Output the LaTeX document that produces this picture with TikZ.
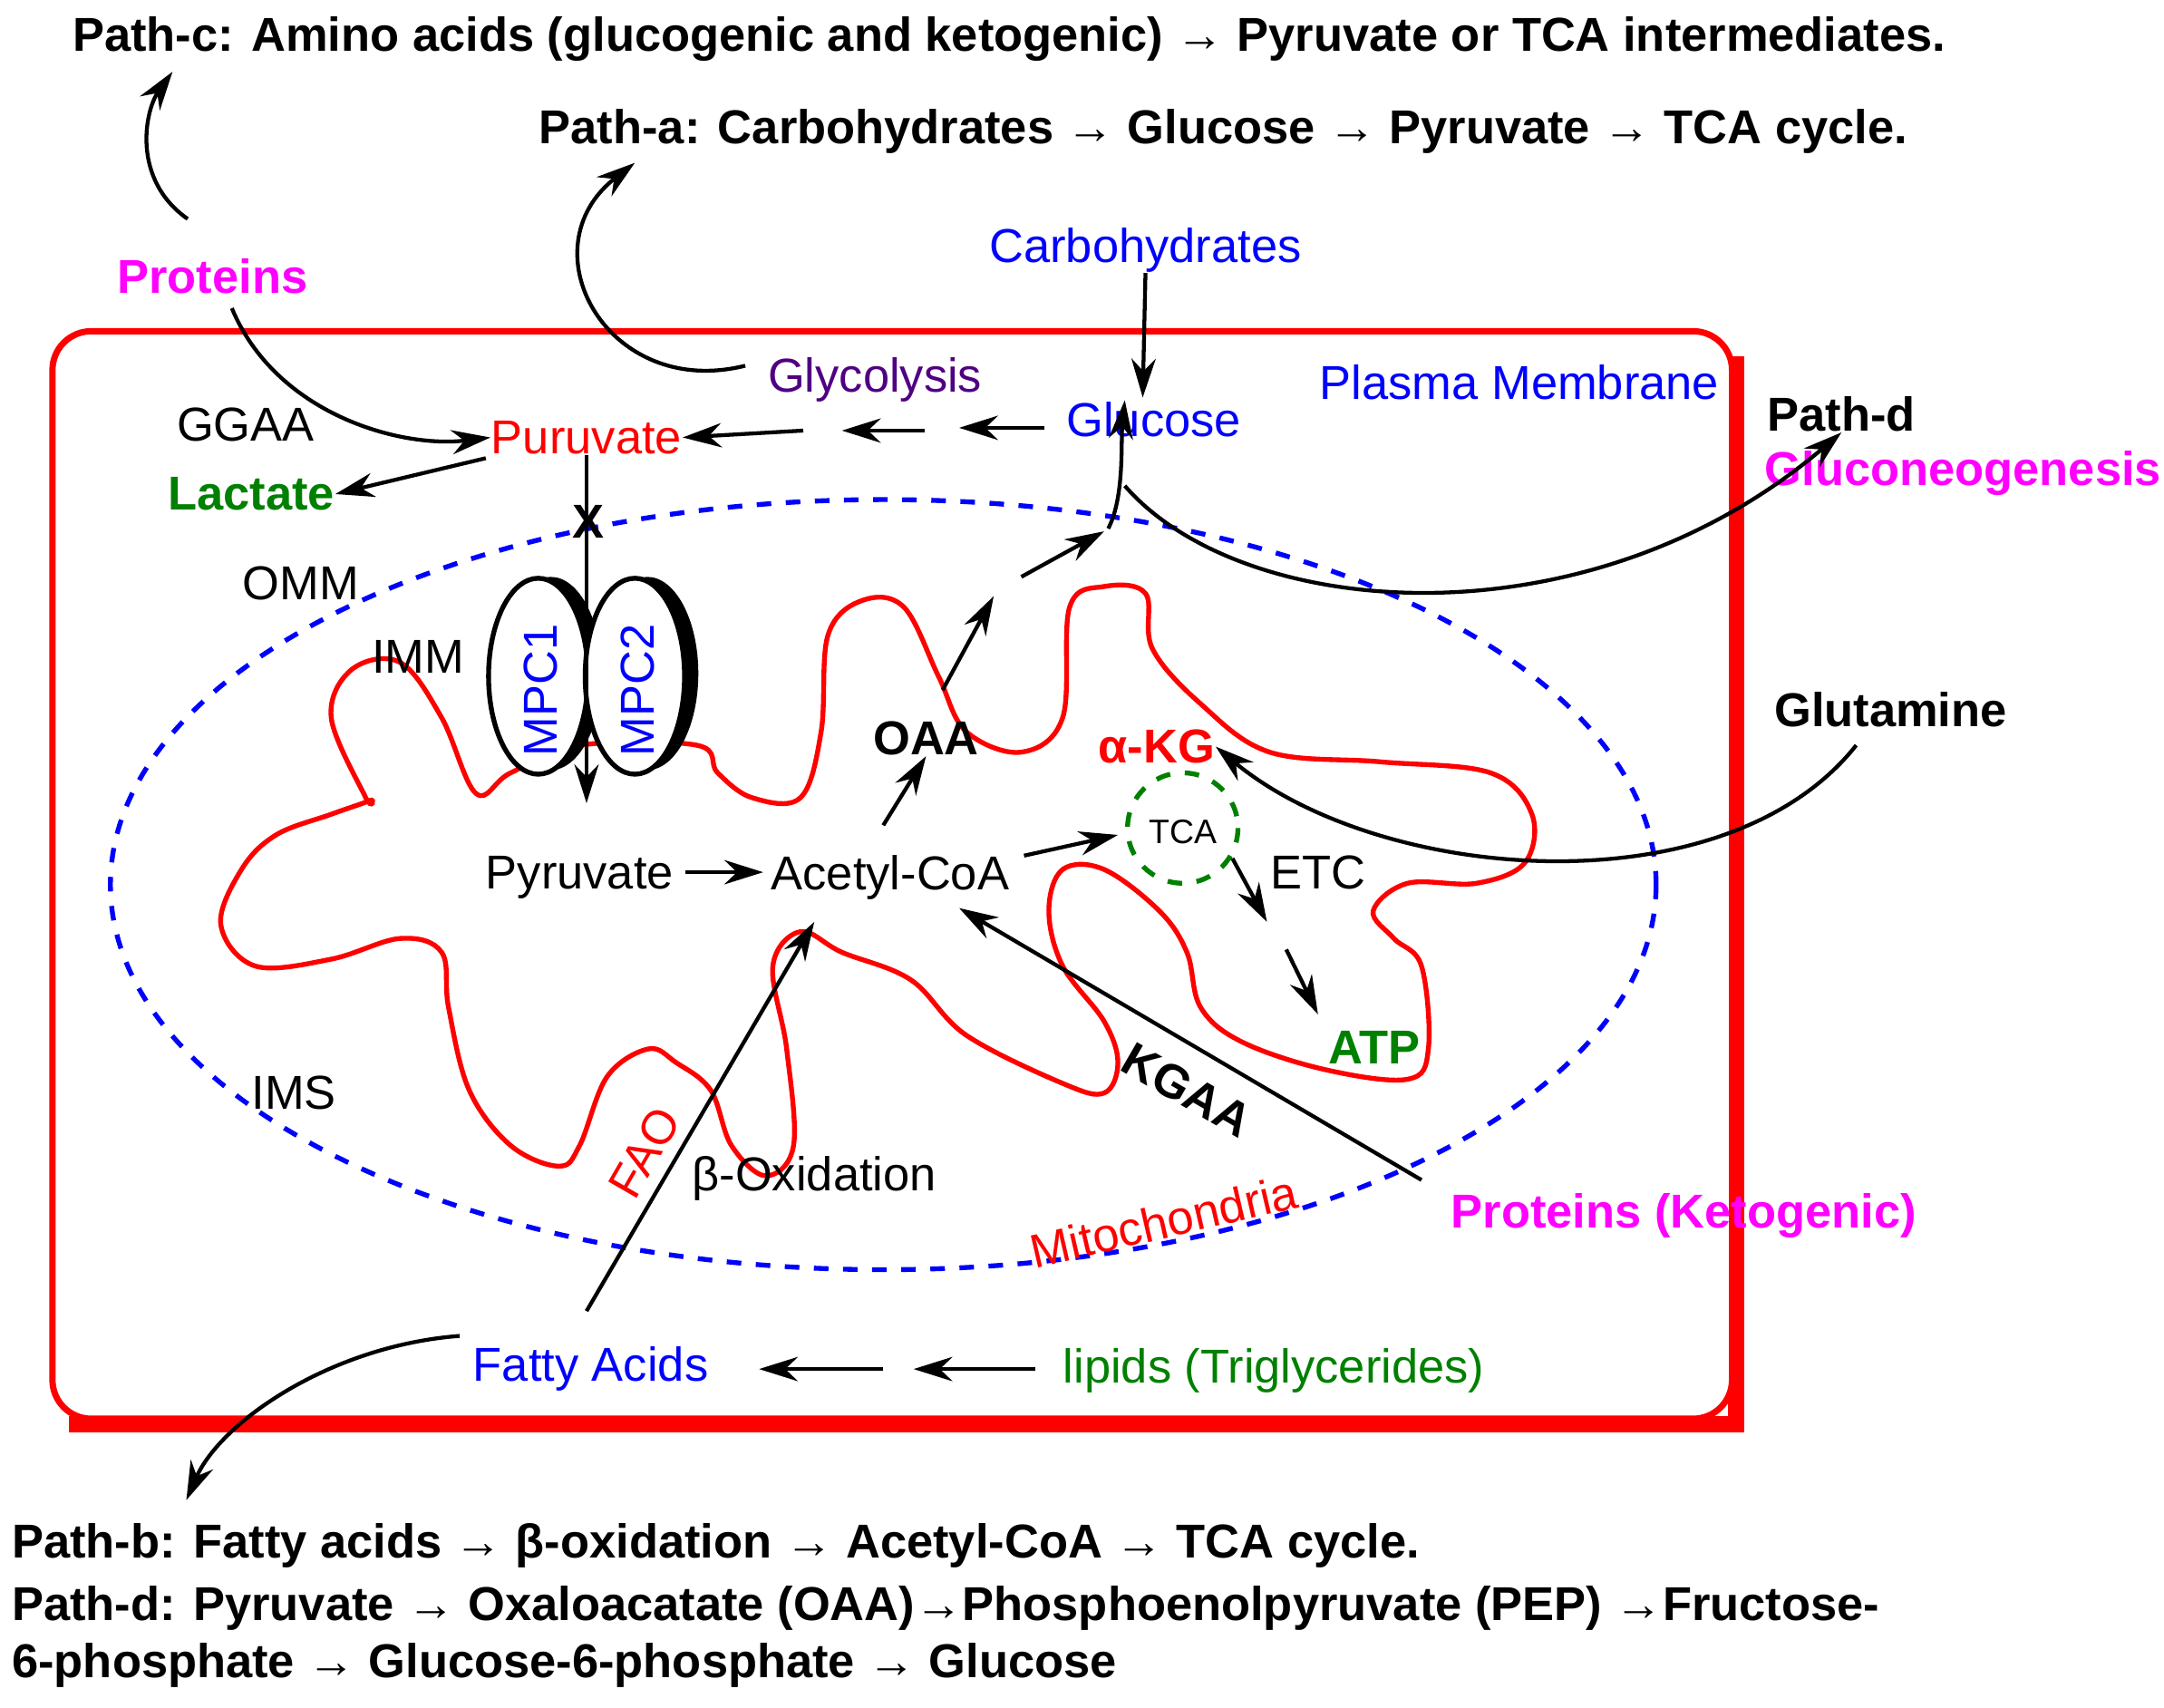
\documentclass[tikz,border=0pt]{standalone}
\usepackage{fontspec}
\setmainfont{Liberation Sans}
\usetikzlibrary{arrows.meta}
\definecolor{mag}{RGB}{255,0,255}
\definecolor{blu}{RGB}{0,0,255}
\definecolor{grn}{RGB}{0,128,0}
\definecolor{pur}{RGB}{80,0,130}
\begin{document}
\begin{tikzpicture}[x=0.01cm,y=-0.01cm,
  every node/.style={font=\fontsize{9.8}{11.5}\selectfont,inner sep=0pt},
  b/.style={font=\fontsize{9.8}{11.5}\selectfont\bfseries},
  arr/.style={-{Stealth[length=8pt,width=5pt]},line width=0.8pt},
  lbl/.style={anchor=west}]
\useasboundingbox (0,0) rectangle (1568,1237);
% cell
\draw[red,line width=3.5pt] (1258,258) -- (1258,1032) -- (50,1032);
\draw[red,line width=1.3pt,rounded corners=8pt,fill=white] (38,240) rectangle (1255,1028);
% mitochondria
\draw[blu,dashed,line width=1pt] (640,641) ellipse [x radius=560,y radius=279];
\draw[red,line width=1pt] plot[smooth cycle,tension=0.6] coordinates {
(265,578)(240,520)(255,485)(290,480)(320,520)(345,575)(370,560)(420,540)(505,540)(520,560)(545,578)(580,578)(595,530)(600,460)(625,435)(655,440)(680,490)(700,530)(740,545)(770,520)(775,440)(800,425)(830,430)(835,470)(870,510)(920,545)(1000,552)(1080,560)(1110,590)(1105,625)(1070,640)(1020,640)(995,660)(1010,680)(1030,700)(1035,760)(1020,782)(960,775)(900,755)(870,730)(860,690)(840,660)(800,630)(770,630)(760,660)(770,700)(800,740)(810,770)(800,792)(770,785)(700,750)(660,710)(610,690)(580,675)(560,700)(570,760)(575,830)(555,852)(530,830)(515,790)(490,770)(470,760)(440,780)(420,830)(405,845)(370,830)(340,790)(325,730)(320,690)(290,680)(240,695)(185,700)(160,670)(175,630)(200,605)(240,590)(268,580)};
% MPC
\fill[black] (399,488) ellipse [x radius=37,y radius=70];
\fill[white] (390,490) ellipse [x radius=36,y radius=71];
\draw[line width=1pt] (390,490) ellipse [x radius=36,y radius=71];
\fill[black] (469,488) ellipse [x radius=37,y radius=70];
\fill[white] (460,490) ellipse [x radius=36,y radius=71];
\draw[line width=1pt] (460,490) ellipse [x radius=36,y radius=71];
\node[blu,rotate=90] (mpc1) at (392,500) {MPC1};
\node[blu,rotate=90] (mpc2) at (462,500) {MPC2};
% texts
\node[b,lbl] (pc) at (52,28) {Path-c: Amino acids (glucogenic and ketogenic) → Pyruvate or TCA intermediates.};
\node[b,lbl] (pa) at (390,95) {Path-a: Carbohydrates → Glucose → Pyruvate → TCA cycle.};
\node[b,mag] (prot) at (154,200) {Proteins};
\node[blu] (carb) at (830,181) {Carbohydrates};
\node[pur] (glyc) at (634,275) {Glycolysis};
\node[blu] (gluc) at (836,304) {Glucose};
\node[blu] (pm) at (1101,277) {Plasma Membrane};
\node[b,lbl] (pd) at (1280,300) {Path-d};
\node[b,mag,lbl] (gng) at (1278,343) {Gluconeogenesis};
\node (ggaa) at (178,308) {GGAA};
\node[red] (puru) at (425,317) {Puruvate};
\node[b,grn] (lac) at (182,358) {Lactate};
\node (omm) at (218,423) {OMM};
\node (imm) at (303,476) {IMM};
\node[b] (xx) at (426,378) {X};
\node[b] (oaa) at (671,535) {OAA};
\node[b,red] (akg) at (838,541) {α-KG};
\node[b,lbl] (glut) at (1285,514) {Glutamine};
\node (pyr) at (420,636) {Pyruvate};
\node (acoa) at (645,636) {Acetyl-CoA};
\draw[grn,dashed,line width=1pt] (857,600) circle (40);
\node[font=\fontsize{7}{8}\selectfont] (tca) at (857,603) {TCA};
\node (etc) at (955,632) {ETC};
\node[b,grn] (atp) at (996,759) {ATP};
\node (ims) at (213,792) {IMS};
\node[b,rotate=-30] (kgaa) at (860,790) {KGAA};
\node[red,rotate=60] (fao) at (467,835) {FAO};
\node (box) at (590,854) {β-Oxidation};
\node[red,rotate=13] (mito) at (843,885) {Mitochondria};
\node[b,mag] (pk) at (1220,881) {Proteins (Ketogenic)};
\node[blu] (fa) at (428,992) {Fatty Acids};
\node[grn] (lip) at (923,993) {lipids (Triglycerides)};
\node[b,lbl] (pb) at (8,1120) {Path-b: Fatty acids → β-oxidation → Acetyl-CoA → TCA cycle.};
\node[b,lbl] (pd1) at (8,1165) {Path-d: Pyruvate → Oxaloacatate (OAA)→Phosphoenolpyruvate (PEP) →Fructose-};
\node[b,lbl] (pd2) at (8,1207) {6-phosphate → Glucose-6-phosphate → Glucose};
% coordinates
\coordinate (g1) at (757,310); \coordinate (g2) at (695,310);
\coordinate (g3) at (670,312); \coordinate (g4) at (610,312);
\coordinate (g5) at (582,312);
\draw[arr] (g1) -- (g2); \draw[arr] (g3) -- (g4); \draw[arr] (g5) -- (puru.east);
\draw[arr] (carb.south) -- (828,288);
\draw[arr] (352,332) -- (lac.east);
\draw[arr] (prot.south) ++(14,10) .. controls (200,300) and (290,325) .. (puru.west);
\draw[arr] (prot.north) ++(-18,-28) .. controls (95,130) and (105,80) .. (125,52);
\draw[arr] (540,265) .. controls (440,290) and (380,180) .. (460,118);
\draw[arr] (815,352) .. controls (900,450) and (1150,470) .. (pd.south);
\draw[arr] (1345,540) .. controls (1250,660) and (1000,640) .. (akg.east);
% mitochondrial flux
\draw[arr] (puru.south) -- (425,582);
\draw[arr] (640,598) -- (oaa.south);
\draw[arr] (683,500) -- (720,432);
\draw[arr] (740,418) -- (800,385);
\draw[arr] (803,383) .. controls (815,360) and (812,320) .. (815,290);
\draw[arr] (pyr.east) ++(8,-4) -- (553,632);
\draw[arr] (742,620) -- (810,605);
\draw[arr] (893,622) -- (918,668);
\draw[arr] (932,688) -- (955,735);
\draw[arr] (425,950) -- (590,668);
\draw[arr] (1030,855) -- (695,658);
\draw[arr] (750,992) -- (662,992);
\draw[arr] (640,992) -- (550,992);
\draw[arr] (333,968) .. controls (240,975) and (160,1030) .. (135,1087);
\end{tikzpicture}
\end{document}
